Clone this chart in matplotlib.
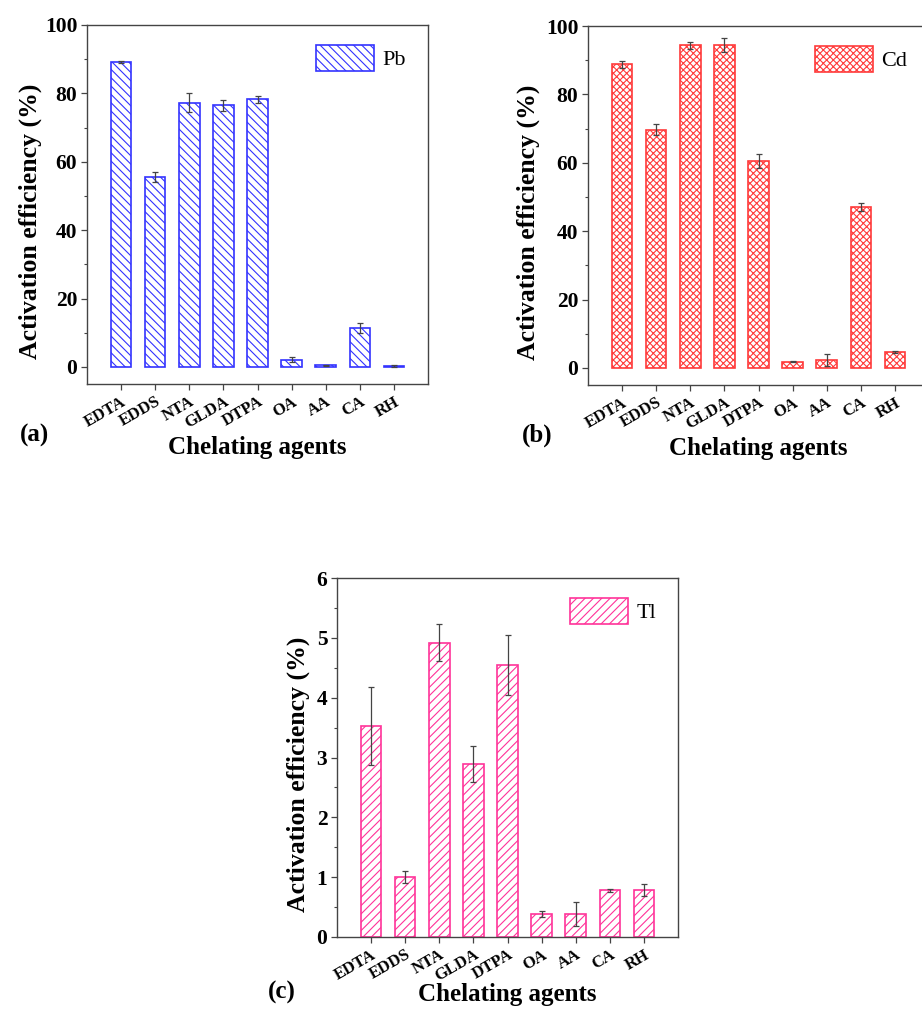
import numpy as np
import matplotlib
matplotlib.use("Agg")
import matplotlib.pyplot as plt

plt.rcParams['font.family'] = ['Liberation Serif', 'DejaVu Serif']
plt.rcParams['hatch.linewidth'] = 0.8

agents = ["EDTA", "EDDS", "NTA", "GLDA", "DTPA", "OA", "AA", "CA", "RH"]

pb = [89.2, 55.5, 77.3, 76.5, 78.3, 2.1, 0.5, 11.4, 0.2]
pb_err = [0.3, 1.4, 2.8, 1.6, 1.0, 0.8, 0.1, 1.5, 0.3]

cd = [88.8, 69.6, 94.4, 94.4, 60.5, 1.8, 2.3, 47.1, 4.6]
cd_err = [1.0, 1.6, 1.0, 2.0, 2.0, 0.1, 1.8, 1.2, 0.3]

tl = [3.53, 1.01, 4.92, 2.89, 4.55, 0.39, 0.38, 0.78, 0.79]
tl_err = [0.65, 0.10, 0.31, 0.30, 0.50, 0.05, 0.20, 0.02, 0.10]

fig = plt.figure(figsize=(9.22, 10.09), dpi=100)

W = 341 / 922
H = 359 / 1009
panels = [
    # left, bottom, values, errors, color, hatch, legend, ylim, yticks,
    # ylabel x, xlabel pad, tag, tag x, tag y
    (87 / 922, 1 - 384 / 1009, pb, pb_err, "#3333ff", "\\\\\\\\", "Pb", (-5, 100), range(0, 101, 20),
     -0.132, 3, "(a)", 20 / 922, 1 - 435 / 1009),
    (588 / 922, 1 - 385 / 1009, cd, cd_err, "#ff3b3b", "xxxxx", "Cd", (-5, 100), range(0, 101, 20),
     -0.141, 3, "(b)", 522 / 922, 1 - 435 / 1009),
    (337 / 922, 1 - 937 / 1009, tl, tl_err, "#ff3399", "////", "Tl", (0, 6), range(0, 7),
     -0.079, -1, "(c)", 268 / 922, 1 - 992 / 1009),
]

x = np.arange(1, len(agents) + 1)

for left, bottom, vals, errs, col, hatch, name, ylim, yt, ylx, xpad, tag, tx, ty in panels:
    ax = fig.add_axes([left, bottom, W, H])
    ax.bar(x, vals, width=0.6, facecolor="white", edgecolor=col, hatch=hatch,
           linewidth=1.2, label=name)
    ax.errorbar(x, vals, yerr=errs, fmt="none", ecolor="#444444", elinewidth=0.9,
                capsize=2.5, capthick=0.9)
    ax.set_xlim(0, 10)
    ax.set_ylim(*ylim)
    ax.set_yticks(list(yt))
    ax.set_xticks(x)
    ax.set_xticklabels(agents, rotation=30, ha="right", rotation_mode="anchor",
                       fontsize=12, fontweight="bold")
    step = list(yt)[1] - list(yt)[0]
    ax.set_yticks(np.arange(0, ylim[1] + 0.001, step / 2), minor=True)
    for lab in ax.get_yticklabels():
        lab.set_fontweight("bold")
        lab.set_fontsize(15.5)
    ax.tick_params(axis="both", which="major", direction="out", length=4, width=0.9,
                   color="#444444", pad=3)
    ax.tick_params(axis="y", which="minor", direction="out", length=2, width=0.8,
                   color="#444444")
    ax.tick_params(axis="x", which="minor", bottom=False)
    for s in ax.spines.values():
        s.set_color("#444444")
        s.set_linewidth(1.0)
    ax.set_ylabel("Activation efficiency (%)", fontsize=18.5, fontweight="bold")
    ax.yaxis.set_label_coords(ylx, 0.453)
    ax.set_xlabel("Chelating agents", fontsize=18, fontweight="bold", labelpad=xpad)
    ax.legend(loc="upper right", bbox_to_anchor=(0.995, 1.0), frameon=False,
              fontsize=16, handlelength=2.6, handleheight=1.4, handletextpad=0.4)
    fig.text(tx, ty, tag, fontsize=18, fontweight="bold", va="center", ha="left")

fig.savefig("out.png", dpi=100)
